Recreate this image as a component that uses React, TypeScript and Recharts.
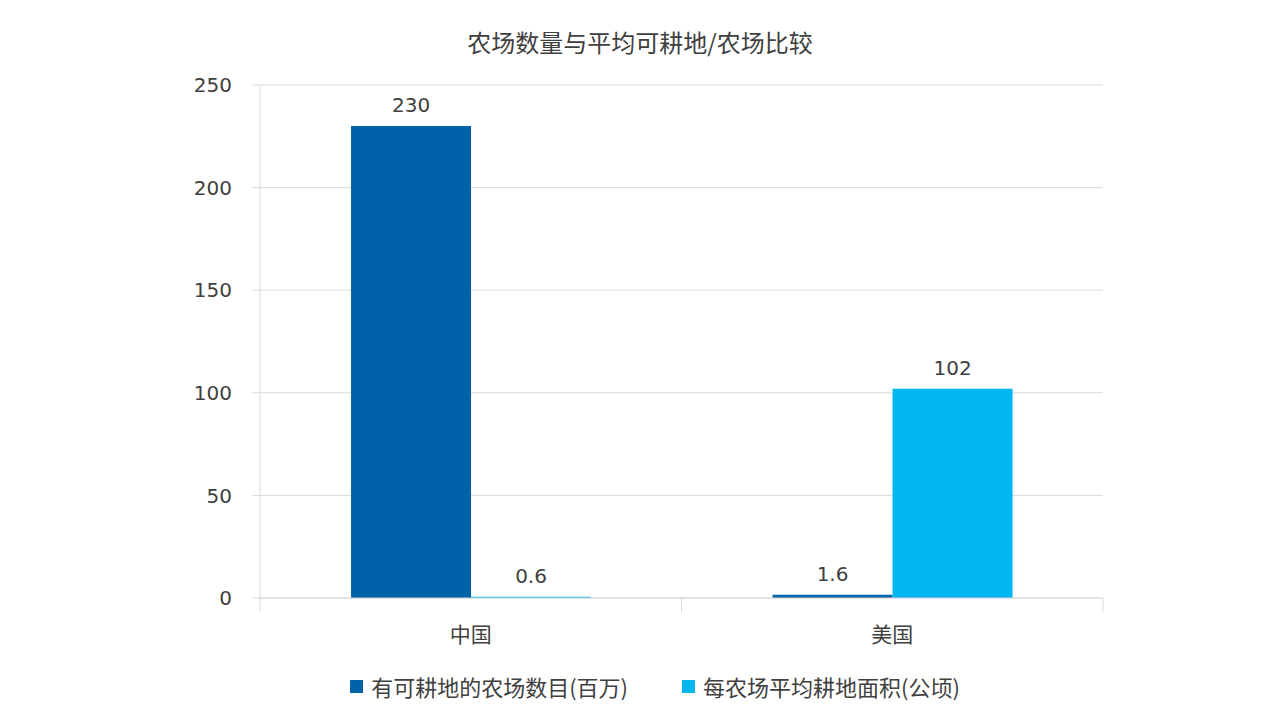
import React from 'react'
import { BarChart, Bar, XAxis, YAxis, CartesianGrid, Legend, LabelList } from 'recharts'

const countries = ['中国', '美国']
const farmCounts = [230, 1.6]
const avgArea = [0.6, 102]
const yTicks = [0, 50, 100, 150, 200, 250]

const data = countries.map((name, i) => ({ name, farms: farmCounts[i], area: avgArea[i] }))

const FONT = '"Noto Sans CJK SC", "Noto Sans", sans-serif'
const NUM_FONT = '"DejaVu Sans", "Noto Sans CJK SC", sans-serif'
const TEXT = '#404040'
const GRID = '#d9d9d9'
const PLOT_W = 843

const CategoryTick = (props: any) => {
  const { x, y, payload, index } = props
  const half = PLOT_W / countries.length / 2
  return (
    <g>
      <line x1={x - half} x2={x - half} y1={y - 8} y2={y + 6} stroke={GRID} />
      {index === countries.length - 1 && <line x1={x + half} x2={x + half} y1={y - 8} y2={y + 6} stroke={GRID} />}
      <text x={x} y={y + 36} textAnchor="middle" fill={TEXT} fontSize={21} fontFamily={FONT}>{payload.value}</text>
    </g>
  )
}

const LegendContent = (props: any) => {
  const { payload } = props
  return (
    <div style={{ display: 'flex', justifyContent: 'center', alignItems: 'center', paddingLeft: 30, fontFamily: FONT, fontSize: 22, color: TEXT }}>
      {payload.map((p: any, i: number) => (
        <div key={i} style={{ display: 'flex', alignItems: 'center', marginLeft: i ? 54 : 0 }}>
          <span style={{ display: 'inline-block', width: 13, height: 13, background: p.color, marginRight: 8 }} />
          <span>{p.value}</span>
        </div>
      ))}
    </div>
  )
}

export default function App() {
  return (
    <div style={{ position: 'absolute', left: 0, top: 0, width: 1280, height: 720, background: '#fff', fontFamily: FONT }}>
      <div style={{ position: 'absolute', top: 24, width: '100%', textAlign: 'center', fontSize: 24, color: TEXT }}>
        农场数量与平均可耕地/农场比较
      </div>
      <BarChart width={1280} height={720} data={data} margin={{ top: 85, right: 177, left: 0, bottom: 0 }}
        barCategoryGap="21.6%" barGap={0}>
        <CartesianGrid vertical={false} stroke={GRID} />
        <YAxis domain={[0, 250]} ticks={yTicks} width={260} axisLine={{ stroke: GRID }} tickLine={{ stroke: GRID }}
          tickSize={8} tickMargin={20} tick={{ fill: TEXT, fontSize: 20, fontFamily: NUM_FONT }} />
        <XAxis dataKey="name" axisLine={{ stroke: GRID }} tickLine={false} height={90} tick={<CategoryTick />} />
        <Legend verticalAlign="bottom" height={0} content={<LegendContent />}
          wrapperStyle={{ top: 670, bottom: 'auto', left: 0, width: 1280 }} />
        <Bar dataKey="farms" name="有可耕地的农场数目(百万)" fill="#0063a9" isAnimationActive={false}>
          <LabelList dataKey="farms" position="top" offset={14} fill={TEXT} fontSize={20} fontFamily={NUM_FONT} />
        </Bar>
        <Bar dataKey="area" name="每农场平均耕地面积(公顷)" fill="#00b6f0" isAnimationActive={false}>
          <LabelList dataKey="area" position="top" offset={14} fill={TEXT} fontSize={20} fontFamily={NUM_FONT} />
        </Bar>
      </BarChart>
    </div>
  )
}
